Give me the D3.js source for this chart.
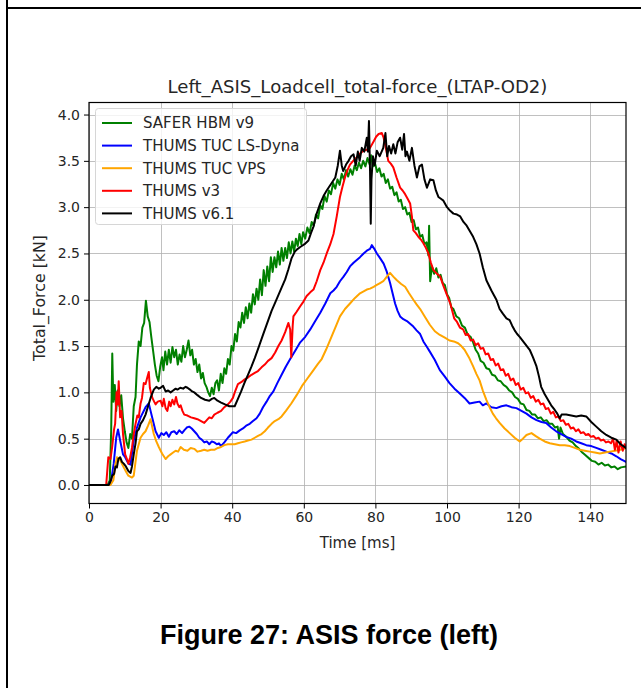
<!DOCTYPE html>
<html>
<head>
<meta charset="utf-8">
<script src="https://cdn.jsdelivr.net/npm/d3@7"></script>
<style>
  html, body { margin: 0; padding: 0; background: #fff; }
  svg { display: block; }
</style>
</head>
<body>
<svg id="fig" width="641" height="688"></svg>
<script>
// Pelvis ASIS load cell total force, left side (LTAP-OD2), per model. [time ms, force kN]
const saferHbmV9 = [[0,0],[5.2,0],[5.8,0.05],[6.2,0.6],[6.5,1.42],[6.8,0.9],[7.2,1.08],[7.6,0.8],[8.0,1.02],[8.5,0.85],[9.0,0.97],[9.5,0.72],[10.0,0.58],[10.5,0.46],[11.0,0.4],[11.5,0.55],[12.0,0.5],[12.5,0.85],[13.0,0.95],[13.4,1.3],[13.9,1.55],[14.4,1.5],[14.9,1.7],[15.4,1.75],[15.9,1.99],[16.4,1.82],[16.9,1.76],[17.4,1.6],[17.9,1.45],[18.4,1.3],[18.9,1.18],[19.4,1.12],[19.9,1.28],[20.4,1.38],[20.8,1.24],[21.3,1.44],[21.8,1.3],[22.3,1.46],[22.8,1.32],[23.3,1.49],[23.8,1.38],[24.3,1.46],[24.8,1.3],[25.3,1.41],[25.8,1.33],[26.3,1.5],[26.8,1.38],[27.3,1.46],[27.8,1.56],[28.3,1.4],[28.8,1.46],[29.3,1.3],[29.8,1.36],[30.3,1.22],[30.8,1.3],[31.3,1.15],[31.8,1.21],[32.3,1.1],[32.8,1.06],[33.3,1.0],[33.8,0.96],[34.3,1.05],[34.8,0.98],[35.3,1.1],[35.8,1.13],[36.3,1.02],[36.8,1.2],[37.3,1.1],[37.8,1.26],[38.3,1.2],[38.8,1.36],[39.3,1.3],[39.8,1.5],[40.3,1.45],[40.8,1.63],[41.3,1.55],[41.8,1.76],[42.3,1.7],[42.8,1.86],[43.3,1.75],[43.8,1.92],[44.3,1.8],[44.8,1.96],[45.3,1.86],[45.8,2.06],[46.3,1.95],[46.8,2.12],[47.3,2.0],[47.8,2.22],[48.3,2.05],[48.8,2.32],[49.3,2.15],[49.8,2.36],[50.3,2.2],[50.8,2.46],[51.3,2.3],[51.8,2.46],[52.3,2.35],[52.8,2.52],[53.3,2.38],[53.8,2.56],[54.3,2.42],[54.8,2.56],[55.3,2.45],[55.8,2.62],[56.3,2.5],[56.8,2.63],[57.3,2.52],[57.8,2.66],[58.3,2.58],[58.8,2.71],[59.3,2.6],[59.8,2.73],[60.4,2.66],[61.0,2.78],[61.6,2.72],[62.2,2.84],[62.8,2.8],[63.4,2.92],[64.0,2.88],[64.6,3.02],[65.2,2.98],[65.8,3.12],[66.4,3.06],[67.0,3.18],[67.6,3.14],[68.2,3.26],[68.8,3.2],[69.4,3.3],[70.0,3.24],[70.6,3.36],[71.2,3.3],[71.8,3.4],[72.4,3.33],[73.0,3.41],[73.6,3.35],[74.2,3.45],[74.8,3.4],[75.4,3.48],[76.0,3.42],[76.6,3.5],[77.2,3.44],[77.8,3.53],[78.4,3.46],[78.8,3.56],[79.3,3.44],[79.9,3.47],[80.5,3.38],[81.1,3.42],[81.7,3.33],[82.3,3.36],[82.9,3.26],[83.5,3.3],[84.1,3.2],[84.7,3.22],[85.3,3.13],[85.9,3.16],[86.5,3.06],[87.1,3.08],[87.7,2.98],[88.3,3.0],[88.9,2.92],[89.5,2.94],[90.1,2.84],[90.7,2.86],[91.3,2.76],[91.9,2.78],[92.5,2.68],[93.1,2.7],[93.7,2.6],[94.3,2.62],[94.8,2.48],[95.0,2.8],[95.3,2.2],[95.8,2.36],[96.4,2.28],[97.0,2.34],[97.6,2.24],[98.2,2.27],[98.8,2.18],[99.4,2.16],[100.0,2.06],[100.6,2.02],[101.2,1.92],[101.8,1.9],[102.6,1.82],[103.4,1.8],[104.2,1.72],[105.0,1.7],[105.8,1.62],[106.6,1.6],[107.3,1.54],[108.0,1.46],[108.7,1.42],[109.4,1.34],[110.2,1.32],[111.0,1.26],[111.8,1.25],[112.6,1.19],[113.4,1.18],[114.2,1.13],[115.0,1.12],[115.8,1.08],[116.6,1.06],[117.4,1.02],[118.2,1.0],[119.0,0.95],[119.8,0.93],[120.6,0.88],[121.4,0.87],[122.2,0.81],[123.0,0.8],[123.8,0.76],[124.6,0.76],[125.4,0.72],[126.2,0.73],[127.0,0.69],[127.8,0.7],[128.6,0.66],[129.4,0.66],[130.2,0.62],[130.9,0.63],[131.3,0.5],[131.7,0.62],[132.4,0.55],[133.3,0.52],[134.2,0.48],[135.1,0.46],[136.0,0.42],[136.9,0.39],[137.8,0.35],[138.7,0.32],[139.6,0.29],[140.5,0.26],[141.4,0.25],[142.3,0.22],[143.2,0.24],[144.1,0.21],[145.0,0.22],[145.9,0.19],[146.8,0.2],[147.7,0.17],[148.6,0.19],[150,0.2]];

const thumsTucLsDyna = [[0,0],[5.5,0],[6.2,0.05],[6.9,0.23],[7.6,0.51],[8.1,0.6],[8.7,0.48],[9.5,0.33],[10.1,0.3],[11,0.23],[11.6,0.22],[12.5,0.48],[13.4,0.62],[14.4,0.73],[15.8,0.84],[16.7,0.88],[17.2,0.8],[17.7,0.72],[18.6,0.58],[19.5,0.51],[20.2,0.56],[20.9,0.54],[21.6,0.57],[22.3,0.52],[23,0.57],[23.8,0.58],[24.5,0.55],[25.2,0.59],[26,0.56],[26.6,0.59],[27.3,0.62],[28,0.63],[28.7,0.61],[29.4,0.58],[30.1,0.55],[30.8,0.51],[31.5,0.49],[32.2,0.46],[32.9,0.47],[33.6,0.44],[34.3,0.47],[35,0.46],[35.7,0.44],[36.3,0.45],[36.9,0.42],[37.8,0.46],[38.8,0.51],[39.5,0.54],[40.2,0.57],[41.1,0.56],[42.1,0.59],[43,0.61],[43.9,0.64],[44.9,0.66],[45.8,0.69],[46.8,0.72],[47.7,0.77],[48.6,0.84],[49.6,0.9],[50.5,0.96],[51.5,1.01],[52.6,1.1],[53.8,1.19],[55,1.28],[56.2,1.36],[57.6,1.45],[59,1.54],[60.4,1.6],[61.8,1.68],[63.2,1.77],[64.6,1.86],[66,1.96],[67.4,2.07],[68.3,2.1],[69.2,2.14],[70.1,2.2],[71.1,2.25],[72,2.3],[72.9,2.36],[73.9,2.4],[74.8,2.43],[75.7,2.46],[76.7,2.5],[77.6,2.53],[78.5,2.55],[79,2.59],[79.7,2.55],[80.4,2.5],[81.3,2.45],[82.3,2.39],[83.2,2.3],[84.1,2.18],[84.8,2.07],[85.5,1.96],[86.2,1.88],[86.9,1.82],[87.8,1.79],[88.8,1.77],[89.7,1.74],[90.6,1.71],[91.5,1.67],[92.5,1.63],[93.4,1.55],[94.4,1.49],[95.2,1.44],[96.6,1.35],[98,1.24],[99.4,1.17],[100.7,1.1],[102.1,1.04],[103.5,0.99],[104.9,0.94],[106.3,0.88],[107.7,0.89],[109.1,0.9],[110,0.86],[111,0.88],[112.4,0.84],[113.8,0.83],[115.2,0.85],[116.6,0.86],[118,0.84],[119.4,0.83],[120.8,0.8],[122.2,0.77],[123.6,0.73],[125,0.7],[126.4,0.68],[127.7,0.67],[129.1,0.62],[130.5,0.58],[131.9,0.55],[133.3,0.52],[134.7,0.5],[136.1,0.47],[137.5,0.45],[138.9,0.43],[140.3,0.42],[141.7,0.4],[143.1,0.38],[144.5,0.36],[145.9,0.34],[147.3,0.31],[148.5,0.28],[150,0.25]];

const thumsTucVps = [[0,0],[6,0],[6.8,0.05],[7.3,0.2],[7.8,0.3],[8.7,0.27],[9.7,0.19],[10.4,0.14],[11,0.1],[12,0.08],[12.5,0.1],[13.4,0.37],[14.4,0.51],[15.1,0.55],[15.8,0.58],[16.5,0.64],[17.2,0.71],[17.7,0.62],[18.1,0.55],[18.8,0.47],[19.5,0.41],[20.4,0.34],[21.4,0.28],[22.1,0.31],[22.8,0.33],[23.5,0.35],[24.2,0.37],[24.9,0.36],[25.6,0.41],[26.5,0.38],[27.5,0.37],[28.4,0.4],[29.4,0.39],[30.3,0.36],[31.3,0.37],[32.2,0.38],[33.1,0.37],[34.1,0.38],[35,0.38],[36,0.4],[36.9,0.41],[37.8,0.43],[38.8,0.44],[39.7,0.44],[40.7,0.44],[41.6,0.45],[42.5,0.46],[43.5,0.47],[44.4,0.48],[45.4,0.49],[46.3,0.51],[47.2,0.53],[48.2,0.55],[49.1,0.58],[50,0.62],[51,0.66],[51.9,0.69],[52.9,0.71],[53.8,0.74],[55,0.8],[56.5,0.88],[58,0.97],[59.5,1.07],[61,1.15],[62.5,1.23],[64,1.31],[65,1.36],[66.2,1.46],[67.4,1.57],[68.8,1.7],[70.1,1.82],[71.5,1.9],[72.9,1.96],[74.3,2.02],[75.7,2.07],[76.7,2.09],[77.6,2.11],[78.5,2.12],[79.5,2.14],[80.4,2.16],[81.3,2.18],[82.2,2.2],[83.2,2.25],[84.1,2.29],[85,2.25],[86,2.21],[87.2,2.17],[88.3,2.14],[89.4,2.07],[90.6,2.0],[91.5,1.95],[92.5,1.9],[93.9,1.81],[95.2,1.73],[96.6,1.66],[98,1.62],[99.4,1.59],[100.7,1.56],[101.9,1.55],[103.1,1.53],[104,1.5],[104.9,1.46],[106.1,1.38],[107.3,1.28],[108.2,1.2],[109.1,1.13],[110,1.02],[111,0.92],[111.9,0.84],[112.8,0.77],[113.7,0.72],[114.7,0.67],[116.1,0.61],[117.5,0.56],[118.9,0.51],[120.3,0.47],[121.2,0.5],[122.2,0.54],[123.6,0.56],[124.7,0.53],[125.9,0.5],[127.3,0.47],[128.7,0.45],[130.1,0.44],[131.5,0.43],[132.9,0.43],[134.3,0.42],[135.7,0.4],[137.1,0.38],[138.5,0.37],[139.9,0.36],[141.3,0.35],[142.7,0.34],[144.1,0.35],[145.5,0.36],[147,0.37],[148.4,0.38],[150,0.4]];

const thumsV3 = [[0,0],[4.8,0],[5.1,0.15],[5.4,0.3],[6,0.28],[6.5,0.42],[7,0.6],[7.3,0.66],[7.7,1.0],[8,0.87],[8.3,1.12],[8.7,0.73],[9.1,0.8],[9.5,0.55],[10.1,0.33],[10.6,0.28],[11,0.23],[11.5,0.3],[12,0.4],[12.5,0.55],[13,0.66],[13.5,0.75],[13.9,0.73],[14.4,0.88],[14.8,0.94],[15.3,1.1],[15.8,1.09],[16.2,1.15],[16.7,1.22],[17.0,1.05],[17.3,1.0],[17.7,0.94],[18.2,0.9],[18.6,0.87],[19.2,0.9],[20,0.91],[20.5,0.85],[20.9,0.93],[21.4,0.83],[21.9,0.8],[22.4,0.9],[22.8,0.85],[23.3,0.92],[23.8,0.87],[24.3,0.95],[24.7,0.88],[25.2,0.84],[25.6,0.86],[26.1,0.8],[26.6,0.76],[27.5,0.75],[28.5,0.73],[29.4,0.72],[30.3,0.71],[31.3,0.69],[32.2,0.67],[32.9,0.7],[33.6,0.73],[34.3,0.72],[35,0.76],[35.9,0.78],[36.9,0.8],[37.8,0.84],[38.8,0.87],[39.5,0.9],[40.2,0.94],[40.9,1.02],[41.6,1.09],[42.5,1.11],[43.5,1.14],[44.4,1.16],[45.4,1.19],[46.3,1.21],[47.2,1.23],[48.2,1.27],[49.1,1.3],[50,1.34],[51,1.37],[52,1.43],[52.9,1.5],[53.8,1.56],[54.8,1.65],[55.7,1.75],[56.2,1.68],[56.5,1.38],[56.9,1.72],[57.1,1.82],[58,1.87],[59,1.93],[59.9,1.98],[60.8,2.04],[61.8,2.08],[62.7,2.11],[63.6,2.2],[64.6,2.32],[65.5,2.4],[66.4,2.5],[67.4,2.6],[68.3,2.71],[69.2,2.9],[70.1,3.11],[70.8,3.22],[71.5,3.32],[72.2,3.4],[72.9,3.46],[73.8,3.5],[74.8,3.54],[75.7,3.58],[76.7,3.61],[77.6,3.62],[78.5,3.64],[79.5,3.71],[80.2,3.76],[80.9,3.79],[81.8,3.8],[82.3,3.75],[82.7,3.68],[83.2,3.58],[83.6,3.5],[84.3,3.47],[85,3.43],[85.9,3.32],[86.9,3.21],[87.6,3.18],[88.3,3.14],[89,3.09],[89.7,3.04],[90.2,2.9],[90.6,2.75],[91.3,2.72],[92,2.68],[92.7,2.65],[93.4,2.61],[94.1,2.56],[94.8,2.5],[95.5,2.4],[96.2,2.32],[97.2,2.28],[98.1,2.25],[99,2.15],[100,2.05],[101,1.95],[102,1.8],[102.8,1.76],[103.6,1.7],[104.5,1.68],[105.2,1.62],[105.9,1.63],[106.6,1.56],[107.3,1.57],[108,1.51],[108.7,1.53],[109.4,1.47],[110.1,1.48],[110.8,1.41],[111.5,1.42],[112.2,1.35],[112.9,1.36],[113.6,1.29],[114.3,1.31],[115,1.24],[115.7,1.25],[116.4,1.18],[117.1,1.2],[117.8,1.13],[118.5,1.15],[119.2,1.08],[119.9,1.1],[120.6,1.03],[121.3,1.05],[122,0.99],[122.7,1.0],[123.4,0.94],[124.1,0.96],[124.8,0.9],[125.5,0.92],[126.2,0.87],[126.9,0.88],[127.6,0.82],[128.3,0.83],[129,0.77],[129.7,0.79],[130.4,0.73],[131.1,0.74],[131.8,0.69],[132.5,0.7],[133.2,0.65],[133.9,0.66],[134.6,0.61],[135.3,0.62],[136,0.58],[136.7,0.6],[137.4,0.56],[138.1,0.57],[138.8,0.54],[139.5,0.55],[140.2,0.52],[140.9,0.53],[141.6,0.5],[142.3,0.51],[143,0.48],[143.7,0.49],[144.4,0.46],[145.1,0.47],[145.8,0.45],[146.4,0.5],[146.9,0.38],[147.4,0.48],[147.9,0.35],[148.5,0.47],[149.1,0.37],[149.6,0.44],[150,0.4]];

const thumsV61 = [[0,0],[5.5,0],[5.9,0.03],[6.5,0.1],[7,0.12],[7.4,0.2],[7.8,0.19],[8.2,0.28],[8.7,0.3],[9.2,0.25],[9.7,0.23],[10.3,0.2],[11,0.15],[11.6,0.13],[12,0.2],[12.5,0.33],[13,0.45],[13.4,0.58],[13.9,0.6],[14.4,0.66],[15.1,0.7],[15.8,0.76],[16.5,0.85],[17.2,0.94],[17.6,0.98],[18.1,1.03],[18.8,1.06],[19.5,1.04],[20,1.05],[20.7,1.07],[21.4,1.01],[22.1,1.02],[22.8,1.0],[23.5,1.02],[24.2,1.04],[24.7,1.03],[25.5,1.05],[26.3,1.04],[27,1.06],[27.5,1.05],[28.2,1.03],[28.8,1.01],[29.4,1.0],[30.3,0.97],[31.3,0.94],[32.4,0.92],[33.6,0.91],[34.3,0.93],[35,0.94],[35.9,0.91],[36.9,0.89],[38,0.87],[39.2,0.85],[40,0.85],[40.7,0.85],[41.6,0.93],[42.5,1.01],[43.4,1.1],[44.4,1.19],[45.4,1.28],[46.3,1.37],[47.5,1.5],[48.6,1.62],[49.8,1.75],[51,1.88],[52,1.97],[52.9,2.05],[53.8,2.13],[54.8,2.22],[55.7,2.33],[56.6,2.45],[57.5,2.52],[58.3,2.55],[59,2.57],[60.2,2.6],[61.3,2.64],[62,2.72],[62.7,2.79],[63.6,2.93],[64.6,3.04],[65.5,3.12],[66.4,3.18],[67.6,3.25],[68.8,3.32],[69.5,3.45],[70.1,3.61],[70.6,3.45],[71,3.39],[71.8,3.46],[72.5,3.5],[73.2,3.55],[73.9,3.57],[74.5,3.45],[75.1,3.6],[75.6,3.5],[76.2,3.64],[76.9,3.6],[77.6,3.75],[77.9,3.6],[78.2,3.93],[78.5,3.4],[78.7,2.82],[78.9,3.3],[79.3,3.55],[79.8,3.45],[80.4,3.61],[81.2,3.55],[82.2,3.64],[82.8,3.8],[83.3,3.55],[83.8,3.66],[84.4,3.58],[85,3.68],[85.6,3.58],[86.2,3.7],[86.9,3.75],[87.5,3.62],[88,3.79],[88.4,3.55],[88.8,3.6],[89.5,3.5],[90.2,3.64],[90.9,3.45],[91.6,3.32],[92.3,3.44],[93,3.46],[93.7,3.3],[94.4,3.21],[95.3,3.3],[96.2,3.29],[96.9,3.18],[97.6,3.11],[98.3,3.09],[99,3.07],[100,3.0],[100.9,2.96],[101.8,2.93],[102.8,2.92],[103.7,2.9],[104.6,2.84],[105.5,2.8],[106.4,2.74],[107.3,2.68],[108.2,2.6],[109.1,2.5],[110,2.35],[111,2.21],[112.4,2.1],[113.8,2.0],[114.7,1.9],[115.6,1.85],[116.6,1.8],[117.5,1.78],[118.2,1.72],[118.9,1.67],[119.6,1.63],[120.3,1.6],[121.7,1.53],[123.1,1.46],[124,1.38],[125,1.28],[125.7,1.17],[126.3,1.06],[127.3,0.98],[128.2,0.92],[129.1,0.86],[130.1,0.81],[130.8,0.77],[131.5,0.72],[132,0.76],[133.3,0.76],[134.7,0.75],[136.1,0.74],[137.5,0.75],[138.9,0.74],[140.3,0.68],[141.7,0.63],[143.1,0.58],[144.5,0.54],[145.9,0.51],[147.3,0.49],[148.5,0.44],[150,0.4]];

const seriesNames = ["SAFER HBM v9", "THUMS TUC LS-Dyna", "THUMS TUC VPS", "THUMS v3", "THUMS v6.1"];
const seriesColors = ["#008000", "#0000ff", "#ffa500", "#ff0000", "#000000"];
const seriesData = [saferHbmV9, thumsTucLsDyna, thumsTucVps, thumsV3, thumsV61];

const xTicks = [0, 20, 40, 60, 80, 100, 120, 140];
const yTicks = [0.0, 0.5, 1.0, 1.5, 2.0, 2.5, 3.0, 3.5, 4.0];

const chartTitle = "Left_ASIS_Loadcell_total-force_(LTAP-OD2)";
const xLabel = "Time [ms]";
const yLabel = "Total_Force [kN]";
const caption = "Figure 27: ASIS force (left)";

// ---- layout ----
const svg = d3.select("#fig");
const mplFont = "'DejaVu Sans', sans-serif";
const box = { left: 89, right: 626, top: 102.5, bottom: 503.5 };

const x = d3.scaleLinear().domain([0, 150]).range([box.left, box.right]);
const y = d3.scaleLinear().domain([-0.2, 4.13]).range([box.bottom, box.top]);

// page frame (table cell edges)
svg.append("line").attr("x1", 7).attr("x2", 7).attr("y1", 0).attr("y2", 688)
  .attr("stroke", "#000").attr("stroke-width", 2);
svg.append("line").attr("x1", 6).attr("x2", 641).attr("y1", 8).attr("y2", 8)
  .attr("stroke", "#000").attr("stroke-width", 2);

// grid
const grid = svg.append("g").attr("stroke", "#b0b0b0").attr("stroke-width", 1).attr("stroke-opacity", 0.8);
xTicks.forEach(t => grid.append("line")
  .attr("x1", Math.round(x(t)) + 0.5).attr("x2", Math.round(x(t)) + 0.5)
  .attr("y1", box.top).attr("y2", box.bottom));
yTicks.forEach(t => grid.append("line")
  .attr("y1", Math.round(y(t)) + 0.5).attr("y2", Math.round(y(t)) + 0.5)
  .attr("x1", box.left).attr("x2", box.right));

// curves
const plot = svg.append("g");
plot.append("clipPath").attr("id", "clip").append("rect")
  .attr("x", box.left).attr("y", box.top)
  .attr("width", box.right - box.left).attr("height", box.bottom - box.top);
const line = d3.line().x(d => x(d[0])).y(d => y(d[1]));
seriesData.forEach((data, i) => {
  plot.append("path")
    .datum(data)
    .attr("d", line)
    .attr("clip-path", "url(#clip)")
    .attr("fill", "none")
    .attr("stroke", seriesColors[i])
    .attr("stroke-width", 2)
    .attr("stroke-linejoin", "round")
    .attr("stroke-linecap", "square");
});

// axes
const xAxis = d3.axisBottom(x).tickValues(xTicks).tickFormat(d3.format("d")).tickSize(5).tickPadding(4);
const yAxis = d3.axisLeft(y).tickValues(yTicks).tickFormat(d3.format(".1f")).tickSize(5).tickPadding(4);

const gx = svg.append("g").attr("transform", `translate(0,${box.bottom})`).call(xAxis);
const gy = svg.append("g").attr("transform", `translate(${box.left},0)`).call(yAxis);
[gx, gy].forEach(g => {
  g.select(".domain").remove();
  g.selectAll(".tick line").attr("stroke", "#000").attr("stroke-width", 1);
  g.selectAll(".tick text").attr("fill", "#262626").style("font-family", mplFont).style("font-size", "14px");
});

// spines
svg.append("rect")
  .attr("x", box.left).attr("y", box.top)
  .attr("width", box.right - box.left).attr("height", box.bottom - box.top)
  .attr("fill", "none").attr("stroke", "#000").attr("stroke-width", 1.2);

// title and axis labels
svg.append("text").attr("x", (box.left + box.right) / 2).attr("y", 93)
  .attr("text-anchor", "middle").style("font-family", mplFont).style("font-size", "18.1px")
  .attr("fill", "#262626").text(chartTitle);
svg.append("text").attr("x", (box.left + box.right) / 2).attr("y", 548)
  .attr("text-anchor", "middle").style("font-family", mplFont).style("font-size", "15px")
  .attr("fill", "#262626").text(xLabel);
svg.append("text").attr("transform", `translate(45,${(box.top + box.bottom) / 2 - 5}) rotate(-90)`)
  .attr("text-anchor", "middle").style("font-family", mplFont).style("font-size", "15.8px")
  .attr("fill", "#262626").text(yLabel);

// legend
const lg = svg.append("g").attr("transform", "translate(95,108)");
lg.append("rect").attr("x", 0.5).attr("y", 0.5).attr("width", 211).attr("height", 116)
  .attr("rx", 3).attr("fill", "#fff").attr("fill-opacity", 0.8)
  .attr("stroke", "#d6d6d6").attr("stroke-width", 1);
seriesNames.forEach((name, i) => {
  const cy = 15 + i * 22.6;
  lg.append("line").attr("x1", 7).attr("x2", 37).attr("y1", cy).attr("y2", cy)
    .attr("stroke", seriesColors[i]).attr("stroke-width", 2);
  lg.append("text").attr("x", 48).attr("y", cy).attr("dy", "0.36em")
    .style("font-family", mplFont).style("font-size", "15px").attr("fill", "#262626").text(name);
});

// caption
svg.append("text").attr("x", 329).attr("y", 644)
  .attr("text-anchor", "middle").style("font-family", "'Liberation Sans', Arial, sans-serif")
  .style("font-size", "27px").style("font-weight", "bold").attr("fill", "#000").text(caption);
</script>
</body>
</html>
